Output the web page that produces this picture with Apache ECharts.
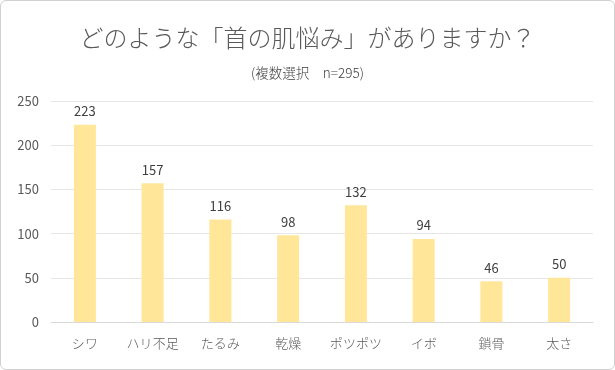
<!DOCTYPE html>
<html><head><meta charset="utf-8">
<script src="https://cdn.jsdelivr.net/npm/echarts@6/dist/echarts.min.js"></script>
<style>
html,body{margin:0;padding:0;background:#fff;}
#c{position:absolute;left:0;top:0;width:613px;height:368px;border:1px solid #d0d0d0;border-radius:6px;}
</style></head><body>
<div id="c"></div>
<script>
const categories = ["シワ","ハリ不足","たるみ","乾燥","ポツポツ","イボ","鎖骨","太さ"];
const values = [223,157,116,98,132,94,46,50];
const yTicks = [0,50,100,150,200,250];
const chart = echarts.init(document.getElementById('c'));
const font = "'Noto Sans CJK JP', 'Noto Sans', sans-serif";
chart.setOption({
  animation:false,
  title:[
    {text:"どのような「首の肌悩み」がありますか？",left:'center',top:20,textStyle:{fontFamily:font,fontSize:24,fontWeight:300,color:'#595959'}},
    {text:"(複数選択　n=295)",left:'center',top:60,textStyle:{fontFamily:font,fontSize:13.5,fontWeight:300,color:'#404040'}}
  ],
  grid:{left:50,right:21,top:100,bottom:47},
  xAxis:{type:'category',data:categories,
    axisLine:{lineStyle:{color:'#d9d9d9'}},axisTick:{show:false},
    axisLabel:{fontFamily:font,fontSize:13,fontWeight:300,color:'#595959',margin:15}},
  yAxis:{type:'value',min:yTicks[0],max:yTicks[yTicks.length-1],interval:50,
    axisLine:{show:false},axisTick:{show:false},
    splitLine:{lineStyle:{color:'#e6e6e6'}},
    axisLabel:{fontFamily:font,fontSize:13,color:'#595959',margin:12}},
  series:[{type:'bar',data:values,barWidth:22,itemStyle:{color:'#FFE699'},
    label:{show:true,position:'top',distance:7,fontFamily:font,fontSize:13,color:'#404040'}}]
});
</script></body></html>
